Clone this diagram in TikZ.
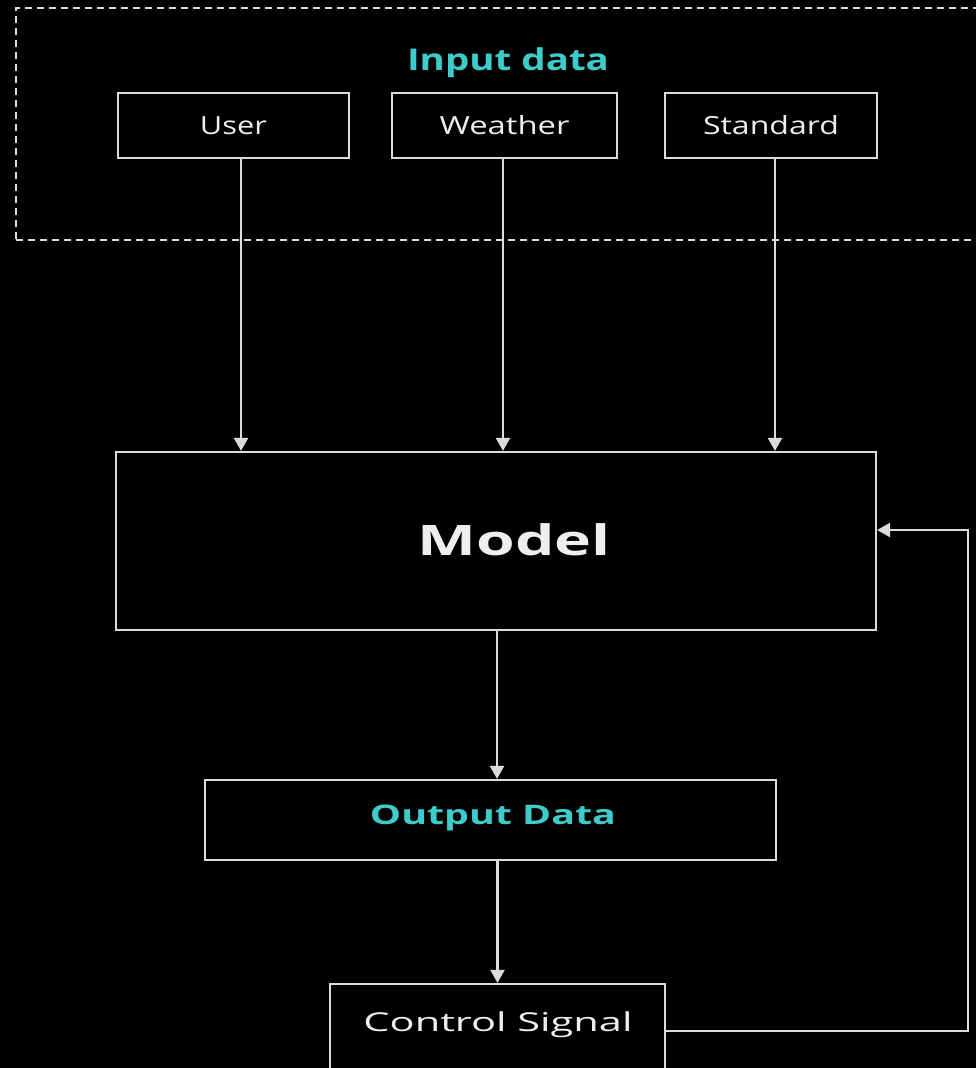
\documentclass[tikz,border=0pt]{standalone}
\usepackage{fontspec}
\setmainfont{Open Sans}
\usepackage{graphicx}
\usetikzlibrary{arrows.meta}
\definecolor{ln}{HTML}{DCDCDC}
\definecolor{txt}{HTML}{EEEEEE}
\definecolor{cy}{HTML}{3CCDCB}
\newcommand{\fitw}[2]{\resizebox{#1}{\height}{#2}}
\begin{document}
\begin{tikzpicture}[x=1pt,y=-1pt,
  box/.style={draw=ln,line width=2.2pt,fill=black,inner sep=0pt,text=txt},
  arr/.style={draw=ln,line width=2.2pt,-{Triangle[length=13pt,width=14pt]}},
  lbl/.style={font=\fontsize{25}{29}\selectfont,text=txt,inner sep=0pt}
]
\fill[black] (0,0) rectangle (976,1068);
\useasboundingbox (0,0) rectangle (976,1068);
\clip (0,0) rectangle (976,1068);

% input group frame
\node[draw=ln,line width=2.2pt,dash pattern=on 7pt off 5pt,minimum width=984pt,minimum height=232pt,inner sep=0pt] (grp) at (508,124) {};
\node[font=\fontsize{30}{34}\selectfont\bfseries,text=cy,inner sep=0pt] (title) at (508,63) {\fitw{202pt}{Input data}};

% input boxes
\node[box,minimum width=231pt,minimum height=65pt] (user) at (233.5,125.5) {};
\node[lbl] at (user) {\fitw{67pt}{User}};
\node[box,minimum width=225pt,minimum height=65pt] (weather) at (504.5,125.5) {};
\node[lbl] at (weather) {\fitw{130pt}{Weather}};
\node[box,minimum width=212pt,minimum height=65pt] (standard) at (771,125.5) {};
\node[lbl] at (standard) {\fitw{136pt}{Standard}};

% model
\node[box,minimum width=760pt,minimum height=178pt] (model) at (496,541) {};
\node[font=\fontsize{42}{47}\selectfont\bfseries,text=txt,inner sep=0pt] (modeltext) at (514,540) {\fitw{193pt}{Model}};

% output
\node[box,minimum width=571pt,minimum height=80pt] (output) at (490.5,820) {};
\node[font=\fontsize{27}{32}\selectfont\bfseries,text=cy,inner sep=0pt] (outtext) at (493,818) {\fitw{246pt}{Output Data}};

% control
\node[box,minimum width=335pt,minimum height=94pt] (control) at (497.5,1031) {};
\node[font=\fontsize{26}{30}\selectfont,text=txt,inner sep=0pt] (ctltext) at (498,1025) {\fitw{269pt}{Control Signal}};

% connectors
\draw[arr] ([xshift=7.5pt]user.south) -- ([xshift=7.5pt]user.south |- model.north);
\draw[arr] ([xshift=-1.5pt]weather.south) -- ([xshift=-1.5pt]weather.south |- model.north);
\draw[arr] ([xshift=4pt]standard.south) -- ([xshift=4pt]standard.south |- model.north);
\draw[arr] ([xshift=1pt]model.south) -- ([xshift=1pt]model.south |- output.north);
\draw[arr] (control.north |- output.south) -- (control.north);
\coordinate (fb) at (968,530);
\draw[arr] (control.east) -| (fb) -- (fb -| model.east);
\end{tikzpicture}
\end{document}
